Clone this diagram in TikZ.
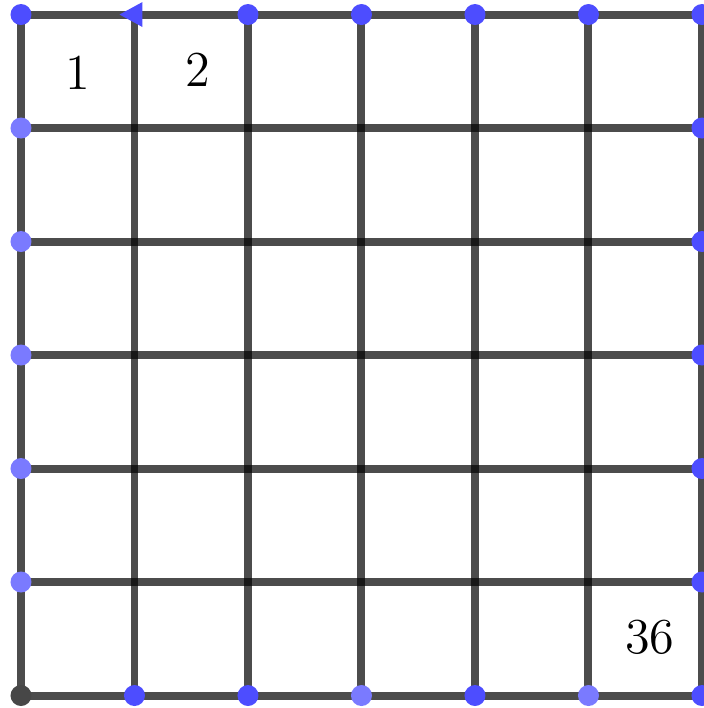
\documentclass[tikz,border=0pt]{standalone}
\definecolor{dotdark}{RGB}{77,77,255}
\definecolor{dotlight}{RGB}{122,122,255}
\begin{document}
\begin{tikzpicture}[x=1cm,y=1cm,
  gridline/.style={draw=black,draw opacity=0.7,line width=2pt},
  dotd/.style={circle,fill=dotdark,inner sep=0pt,minimum size=0.185cm},
  dotl/.style={circle,fill=dotlight,inner sep=0pt,minimum size=0.185cm},
  dotg/.style={circle,fill=black!72,inner sep=0pt,minimum size=0.185cm},
  lbl/.style={font=\fontsize{12.6}{15}\selectfont,inner sep=0pt}]
\useasboundingbox (-0.185,-0.110) rectangle (6.018,6.128);
% grid points
\foreach \i in {0,...,6}{
  \foreach \j in {0,...,6}{
    \coordinate (g-\i-\j) at (\i,\j);
  }
}
% grid lines
\foreach \k in {0,...,6}{
  \draw[gridline] (g-0-\k) -- (g-6-\k);
  \draw[gridline] (g-\k-0) -- (g-\k-6);
}
% top row dots
\foreach \i in {0,2,3,4,5,6}{
  \node[dotd] (t-\i) at (g-\i-6) {};
}
% left column
\foreach \j in {1,...,5}{
  \node[dotl] (l-\j) at (g-0-\j) {};
}
\node[dotg] (o) at (g-0-0) {};
% bottom row
\foreach \i/\s in {1/dotd,2/dotd,3/dotl,4/dotd,5/dotl,6/dotd}{
  \node[\s] (b-\i) at (g-\i-0) {};
}
% right column
\foreach \j in {1,...,5}{
  \node[dotd] (r-\j) at (g-6-\j) {};
}
% arrow marker
\fill[dotdark] (g-1-6) ++(-0.132,0) -- ++(0.202,0.11) -- ++(0,-0.22) -- cycle;
% labels
\node[lbl] (n1) at (0.505,5.49) {1};
\node[lbl] (n2) at (1.56,5.51) {2};
\node[lbl] (n36) at (5.54,0.515) {36};
\end{tikzpicture}
\end{document}
